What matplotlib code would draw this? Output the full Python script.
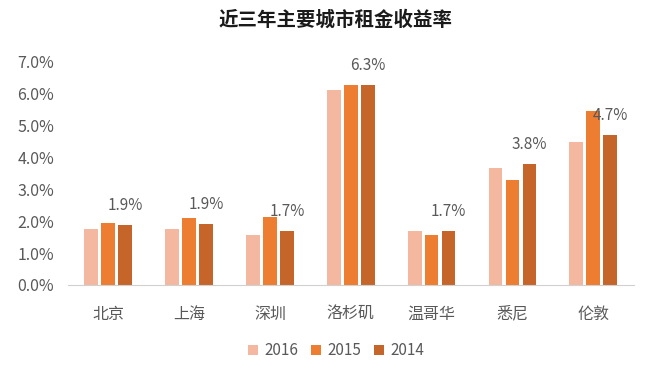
import matplotlib
matplotlib.use("Agg")
import matplotlib.pyplot as plt
import numpy as np
from matplotlib.ticker import PercentFormatter

plt.rcParams['font.family'] = ['Noto Sans CJK SC', 'DejaVu Sans']

cities = ["北京", "上海", "深圳", "洛杉矶", "温哥华", "悉尼", "伦敦"]
years = ["2016", "2015", "2014"]
v2016 = [1.74, 1.74, 1.57, 6.12, 1.69, 3.68, 4.48]
v2015 = [1.94, 2.10, 2.13, 6.27, 1.58, 3.28, 5.47]
v2014 = [1.88, 1.92, 1.69, 6.27, 1.69, 3.78, 4.69]
labels2014 = ["1.9%", "1.9%", "1.7%", "6.3%", "1.7%", "3.8%", "4.7%"]
colors = ["#F4B8A0", "#ED7D31", "#C5652A"]
title = "近三年主要城市租金收益率"

fig = plt.figure(figsize=(6.72, 3.74), dpi=100)
ax = fig.add_axes([0.101, 0.238, 0.842, 0.597])

x = np.arange(len(cities))
w = 0.17
step = 0.21
series = [v2016, v2015, v2014]
bars = []
for i, (vals, c, yr) in enumerate(zip(series, colors, years)):
    b = ax.bar(x + (i - 1) * step, vals, width=w, color=c, label=yr)
    bars.append(b)

for rect, lab in zip(bars[2], labels2014):
    ax.annotate(lab, (rect.get_x() + rect.get_width() / 2, rect.get_height()),
                xytext=(0, 8), textcoords="offset points", ha="center", va="bottom",
                fontsize=11, color="#595959")

ax.set_xlim(-0.5, len(cities) - 0.5)
ax.set_ylim(0, 7)
ax.set_yticks(np.arange(0, 7.01, 1))
ax.yaxis.set_major_formatter(PercentFormatter(decimals=1))
ax.set_xticks(x)
ax.set_xticklabels(cities)
ax.tick_params(axis='both', length=0, colors="#595959")
ax.tick_params(axis='x', pad=15, labelsize=11.5)
ax.tick_params(axis='y', pad=10, labelsize=11.5)
for s in ["top", "right", "left"]:
    ax.spines[s].set_visible(False)
ax.spines["bottom"].set_color("#D0D0D0")

fig.text(0.5, 0.948, title, ha="center", va="center", fontsize=14, fontweight="bold", color="#1a1a1a")

leg = fig.legend(handles=bars, labels=years, loc="center", bbox_to_anchor=(0.5, 0.062), ncol=3,
                 frameon=False, fontsize=11, handlelength=0.7, handleheight=0.7,
                 handletextpad=0.4, columnspacing=0.8)
for t in leg.get_texts():
    t.set_color("#595959")

fig.savefig("out.png", dpi=100)
